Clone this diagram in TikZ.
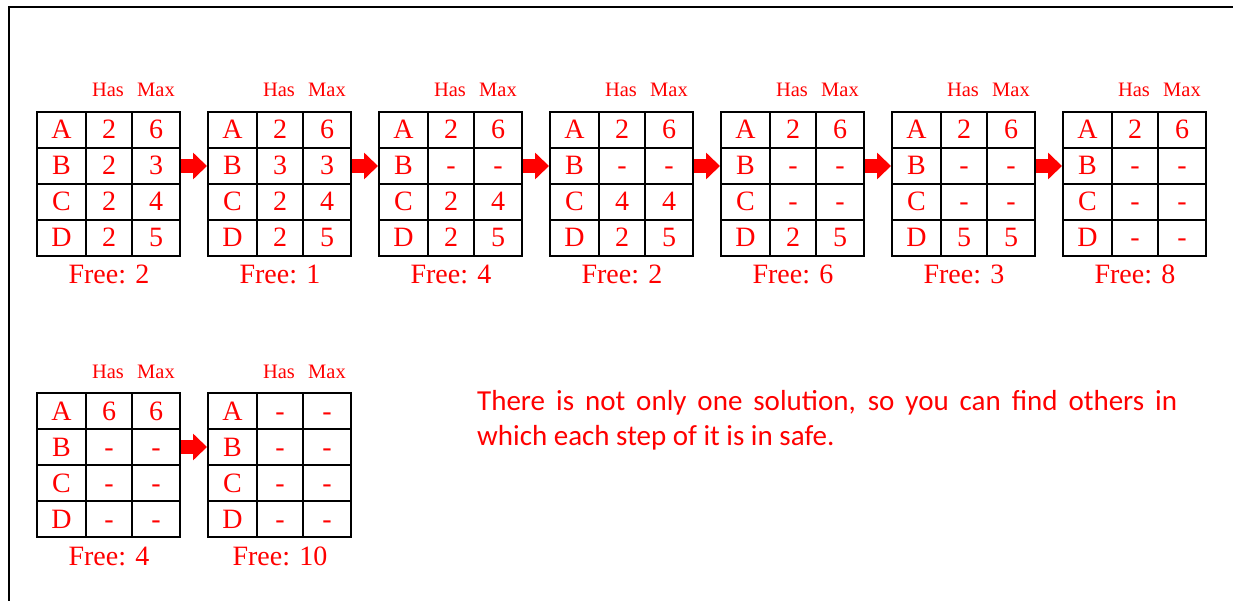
\documentclass[tikz,border=0pt]{standalone}
\usepackage{fontspec}
\setmainfont{Liberation Serif}
\newfontfamily\notefont{Carlito}
\usetikzlibrary{arrows.meta,calc}
\definecolor{answer}{HTML}{FF0000}
\definecolor{ink}{HTML}{000000}

\begin{document}
\begin{tikzpicture}[
  x=1pt, y=-1pt,
  table/.style={draw=ink, line width=2pt, minimum width=143pt,
    minimum height=144pt, inner sep=0pt},
  rule/.style={draw=ink, line width=2pt},
  cell/.style={text=answer, font=\fontsize{28}{28}\selectfont,
    inner sep=0pt, text height=18pt, text depth=0pt},
  heading/.style={text=answer, font=\fontsize{20.5}{20.5}\selectfont,
    inner sep=0pt, text height=14pt, text depth=0pt},
  advance/.style={draw=answer, line width=14pt,
    -{Triangle[length=14pt,width=26pt]}},
  note/.style={text=answer, font=\notefont\fontsize{29}{35}\selectfont,
    text width=700pt, align=justify, inner sep=0pt, anchor=base west}
]
\useasboundingbox (0,0) rectangle (1233,601);

% Open frame: only the top and left edges are in view.
\coordinate (frame-top) at (1233,7);
\coordinate (frame-corner) at (9,7);
\coordinate (frame-foot) at (9,601);
\draw[rule] (frame-foot) -- (frame-corner) -- (frame-top);

% One table per step: name/left/top/has and max for A--D/free.
\foreach \name/\x/\y/\ha/\ma/\hb/\mb/\hc/\mc/\hd/\md/\free in {
  s1/37/112/2/6/2/3/2/4/2/5/2,
  s2/208/112/2/6/3/3/2/4/2/5/1,
  s3/379/112/2/6/-/-/2/4/2/5/4,
  s4/550/112/2/6/-/-/4/4/2/5/2,
  s5/721/112/2/6/-/-/-/-/2/5/6,
  s6/892/112/2/6/-/-/-/-/5/5/3,
  s7/1063/112/2/6/-/-/-/-/-/-/8,
  s8/37/393/6/6/-/-/-/-/-/-/4,
  s9/208/393/-/-/-/-/-/-/-/-/10} {
  \node[table] (\name) at (\x+71.5,\y+72) {};
  \draw[rule] (\x+49,\y) -- (\x+49,\y+144);
  \draw[rule] (\x+95,\y) -- (\x+95,\y+144);
  \foreach \k in {1,2,3} {
    \draw[rule] (\x,\y+36*\k) -- (\x+143,\y+36*\k);
  }
  \node[heading] (\name-has) at (\x+71,\y-22) {Has};
  \node[heading] (\name-max) at (\x+119,\y-22) {Max};
  \foreach \row/\has/\max [count=\r] in {A/\ha/\ma, B/\hb/\mb,
    C/\hc/\mc, D/\hd/\md} {
    \node[cell] (\name-\row) at (\x+24.5,\y+36*\r-18) {\row};
    \node[cell] (\name-\row-has) at (\x+72,\y+36*\r-18) {\has};
    \node[cell] (\name-\row-max) at (\x+119,\y+36*\r-18) {\max};
  }
  \node[cell] (\name-free) at (\x+72,\y+163) {Free: \free};
}

% Step arrows sit on row B.
\foreach \from/\to in {s1/s2, s2/s3, s3/s4, s4/s5, s5/s6, s6/s7, s8/s9} {
  \draw[advance] (\from.east |- \from-B) -- (\to.west |- \to-B);
}

\node[note] (remark) at (477,410) {There is not only one solution, so you
  can find others in\linebreak which each step of it is in safe.};
\end{tikzpicture}
\end{document}
